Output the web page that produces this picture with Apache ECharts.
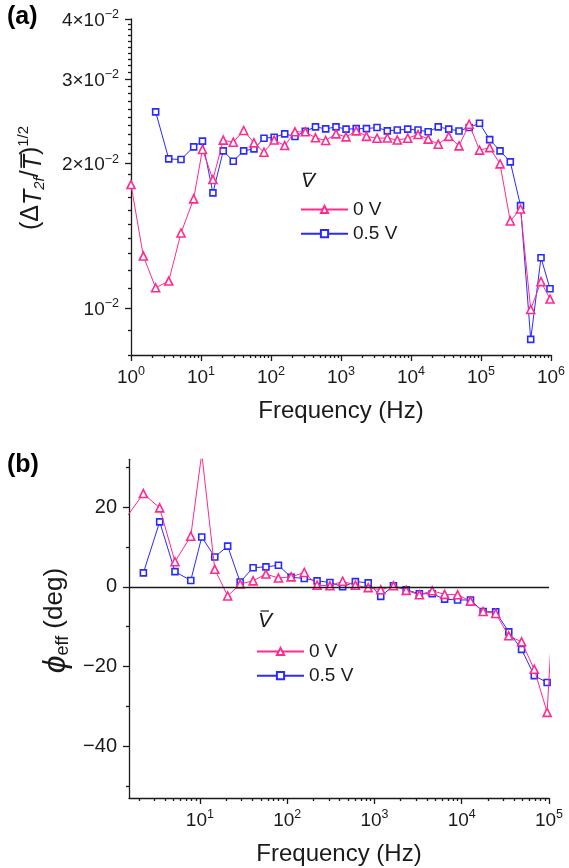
<!DOCTYPE html>
<html>
<head>
<meta charset="utf-8">
<title>Thermal oscillation amplitude and phase vs frequency</title>
<script src="https://cdn.jsdelivr.net/npm/echarts@6/dist/echarts.min.js"></script>
<style>
  html, body { margin: 0; padding: 0; background: #ffffff; }
  #chart { width: 569px; height: 868px; }
</style>
</head>
<body>
<div id="chart"></div>
<script>
// Measurement frequencies (Hz), shared by both panels
const freqHz = [1.0, 1.5, 2.25, 3.46, 5.18, 7.86, 10.5, 14.8, 20.8, 28.9, 40.7, 57.1, 79.4, 111, 157, 220,
  309, 432, 604, 848, 1180, 1650, 2310, 3270, 4590, 6370, 8970, 12600, 17600, 24500, 34600, 48500,
  67800, 95200, 133000, 187000, 262000, 367000, 513000, 720000, 968000];

// (a) normalised second-harmonic amplitude
const ampZeroV = [0.0181, 0.01285, 0.01104, 0.0114, 0.01435, 0.0169, 0.02141, 0.01854, 0.02239, 0.02217,
  0.02345, 0.0221, 0.02113, 0.0224, 0.02182, 0.0233, 0.0233, 0.02264, 0.02235, 0.02307, 0.02274, 0.02341,
  0.0228, 0.0226, 0.02262, 0.0224, 0.0226, 0.0230, 0.0225, 0.02196, 0.0228, 0.02178, 0.02416, 0.02134,
  0.0216, 0.01998, 0.0152, 0.0161, 0.00995, 0.01137, 0.01046];
const ampHalfV = [null, null, 0.02564, 0.02047, 0.0204, 0.02168, 0.02228, 0.01739, 0.02127, 0.02024,
  0.02127, 0.02147, 0.0226, 0.0227, 0.02307, 0.02279, 0.02337, 0.02386, 0.02363, 0.02386, 0.0236, 0.02366,
  0.02366, 0.02379, 0.02341, 0.0235, 0.0236, 0.0235, 0.0233, 0.02386, 0.0236, 0.0234, 0.02379, 0.02428,
  0.02245, 0.02127, 0.02018, 0.01636, 0.00862, 0.01275, 0.01099];

// (b) effective phase (deg)
const phaseZeroV = [null, 18.0, 23.4, 19.8, 6.3, 12.7, 33.5, 4.4, -2.3, 0.7, 1.5, 3.2, 2.2, 2.5, 3.6, 0.4,
  0.25, 1.4, 0.4, -0.2, -0.75, 0.25, -0.9, -2.0, -1.0, -1.9, -2.0, -3.6, -6.2, -6.7, -12.3, -13.8, -20.7,
  -31.5, 25.0];
const phaseHalfV = [null, null, 3.5, 16.3, 3.8, 1.6, 12.5, 7.5, 10.2, 1.2, 4.8, 5.0, 5.4, 2.4, 2.1, 1.5,
  1.1, 0.0, 1.3, 1.0, -2.4, 0.25, -0.75, -1.75, -1.75, -3.1, -3.3, -3.3, -6.2, -6.3, -11.3, -15.7, -22.3,
  -24.0];

// Axis ticks and labels
const seriesNames = ['0 V', '0.5 V'];
const freqDecadesA = [1, 10, 100, 1000, 10000, 100000, 1000000];
const freqDecadesB = [10, 100, 1000, 10000, 100000];
const ampTicks = [0.01, 0.02, 0.03, 0.04];
const ampTickLabels = ['{base|10}{sup|\u22122}', '{base|2\u00d710}{sup|\u22122}', '{base|3\u00d710}{sup|\u22122}', '{base|4\u00d710}{sup|\u22122}'];
const phaseTicks = [-40, -20, 0, 20];
const phaseMinorTicks = [-50, -30, -10, 10, 30];

const FONT = "'Liberation Sans', Arial, Helvetica, sans-serif";
const INK = '#1a1a1a';
const PINK = '#ff2a8c';
const BLUE = '#2a2aff';

function pairs(values) {
  const out = [];
  values.forEach((v, i) => { if (v !== null) out.push([freqHz[i], v]); });
  return out;
}

// 2..9 x 10^n minor ticks inside [lo, hi]
function logMinor(lo, hi) {
  const out = [];
  for (let e = -3; e <= 6; e++) {
    for (let m = 2; m <= 9; m++) {
      const v = m * Math.pow(10, e);
      if (v >= lo * 0.9999 && v <= hi * 1.0001) out.push(v);
    }
  }
  return out;
}
// 0.008 .. 0.039 every 0.001 (minor ticks of the amplitude axis)
function ampMinor() {
  const out = [];
  for (let k = 8; k <= 39; k++) if (k % 10 !== 0) out.push(k / 1000);
  return out;
}

const supRich = {
  base: { fontSize: 19, fontFamily: FONT, color: INK, lineHeight: 22, verticalAlign: 'bottom' },
  sup: { fontSize: 12.5, fontFamily: FONT, color: INK, lineHeight: 12, verticalAlign: 'top' }
};

function decadeLabel(v) {
  const e = Math.round(Math.log10(v));
  return '{base|10}{sup|' + e + '}';
}

const axisLineStyle = { color: INK, width: 1.3 };

function freqAxis(gridIndex, min, max, decades) {
  return [
    {
      type: 'log', logBase: 10, gridIndex, min, max, position: 'bottom',
      axisLine: { show: true, onZero: false, lineStyle: axisLineStyle },
      axisTick: { show: true, inside: false, length: 6, lineStyle: axisLineStyle, customValues: decades },
      axisLabel: { show: true, margin: 10, customValues: decades, formatter: decadeLabel, rich: supRich },
      splitLine: { show: false }, minorTick: { show: false },
      name: 'Frequency (Hz)', nameLocation: 'middle', nameGap: 44,
      nameTextStyle: { fontSize: 24, fontFamily: FONT, color: INK }
    },
    {
      type: 'log', logBase: 10, gridIndex, min, max, position: 'bottom',
      axisLine: { show: false, onZero: false },
      axisTick: { show: true, inside: false, length: 3, lineStyle: axisLineStyle, customValues: logMinor(min, max) },
      axisLabel: { show: false }, splitLine: { show: false }
    }
  ];
}

function lineSeries(name, data, xi, yi, isZero) {
  const color = isZero ? PINK : BLUE;
  return {
    name, type: 'line', data, xAxisIndex: xi, yAxisIndex: yi,
    symbol: isZero ? 'triangle' : 'rect', symbolSize: isZero ? 8 : 6,
    showSymbol: true, clip: true, animation: false,
    lineStyle: { color, width: 1 },
    itemStyle: { color: '#ffffff', borderColor: color, borderWidth: 1.6 },
    emphasis: { disabled: true },
    z: isZero ? 3 : 2
  };
}

function legendAt(left, top) {
  return {
    data: seriesNames, orient: 'vertical', left, top,
    itemWidth: 47, itemHeight: 9, itemGap: 5.2, selectedMode: false,
    textStyle: { fontSize: 19, fontFamily: FONT, color: INK }
  };
}

const chart = echarts.init(document.getElementById('chart'), null, { renderer: 'canvas' });

const option = {
  backgroundColor: '#ffffff',
  animation: false,
  grid: [
    { left: 131, top: 19, width: 420, height: 336, containLabel: false },
    { left: 129, top: 459.3, width: 420, height: 338.7, containLabel: false }
  ],
  xAxis: [
    ...freqAxis(0, 1, 1000000, freqDecadesA),
    ...freqAxis(1, 1.54, 100000, freqDecadesB)
  ],
  yAxis: [
    {
      type: 'log', logBase: 10, gridIndex: 0, min: 0.008, max: 0.04, position: 'left',
      axisLine: { show: true, onZero: false, lineStyle: axisLineStyle },
      axisTick: { show: true, length: 6, lineStyle: axisLineStyle, customValues: ampTicks },
      axisLabel: {
        margin: 12, customValues: ampTicks, rich: supRich,
        formatter: (v) => {
          const i = ampTicks.findIndex(t => Math.abs(t - v) < 1e-6);
          return i >= 0 ? ampTickLabels[i] : '';
        }
      },
      splitLine: { show: false }, minorTick: { show: false },
      name: '(\u0394{it|T}{sub|2f}/{it|T\u0305}){sup|1/2}', nameLocation: 'middle', nameGap: 84, nameRotate: 90,
      nameTextStyle: {
        fontSize: 25, fontFamily: FONT, color: INK, padding: [0, 0, 0, 18],
        rich: {
          it: { fontSize: 25, fontFamily: FONT, fontStyle: 'italic', color: INK, lineHeight: 31, verticalAlign: 'bottom' },
          sub: { fontSize: 15, fontFamily: FONT, fontStyle: 'italic', color: INK, lineHeight: 15, verticalAlign: 'bottom' },
          sup: { fontSize: 15, fontFamily: FONT, color: INK, lineHeight: 15, verticalAlign: 'top' }
        }
      }
    },
    {
      type: 'log', logBase: 10, gridIndex: 0, min: 0.008, max: 0.04, position: 'left',
      axisLine: { show: false, onZero: false },
      axisTick: { show: true, length: 3, lineStyle: axisLineStyle, customValues: ampMinor() },
      axisLabel: { show: false }, splitLine: { show: false }
    },
    {
      type: 'value', gridIndex: 1, min: -53, max: 32, position: 'left',
      axisLine: { show: true, onZero: false, lineStyle: axisLineStyle },
      axisTick: { show: true, length: 6, lineStyle: axisLineStyle, customValues: phaseTicks },
      axisLabel: {
        margin: 12, customValues: phaseTicks, fontSize: 20, fontFamily: FONT, color: INK,
        formatter: (v) => (v < 0 ? '\u2212' + Math.abs(v) : String(v))
      },
      splitLine: { show: false },
      name: '{phi|\u03d5}{sub|eff} (deg)', nameLocation: 'middle', nameGap: 56, nameRotate: 90,
      nameTextStyle: {
        fontSize: 26, fontFamily: FONT, color: INK, padding: [0, 0, 0, 16],
        rich: {
          phi: { fontSize: 32, fontFamily: FONT, fontStyle: 'italic', color: INK, lineHeight: 34, verticalAlign: 'bottom' },
          sub: { fontSize: 18, fontFamily: FONT, color: INK, lineHeight: 18, verticalAlign: 'bottom' }
        }
      }
    },
    {
      type: 'value', gridIndex: 1, min: -53, max: 32, position: 'left',
      axisLine: { show: false, onZero: false },
      axisTick: { show: true, length: 3, lineStyle: axisLineStyle, customValues: phaseMinorTicks },
      axisLabel: { show: false }, splitLine: { show: false }
    }
  ],
  legend: [legendAt(295, 195), legendAt(251, 637)],
  series: [
    lineSeries(seriesNames[0], pairs(ampZeroV), 0, 0, true),
    lineSeries(seriesNames[1], pairs(ampHalfV), 0, 0, false),
    Object.assign(lineSeries(seriesNames[0], pairs(phaseZeroV), 2, 2, true), {
      markLine: {
        silent: true, symbol: ['none', 'none'], label: { show: false },
        lineStyle: { color: INK, width: 1.3, type: 'solid' },
        data: [{ yAxis: 0 }], animation: false
      }
    }),
    lineSeries(seriesNames[1], pairs(phaseHalfV), 2, 2, false)
  ],
  graphic: [
    { type: 'text', left: 7, top: 5, style: { text: '(a)', font: "bold 25px " + FONT, fill: '#000' } },
    { type: 'text', left: 7, top: 453, style: { text: '(b)', font: "bold 25px " + FONT, fill: '#000' } },
    // legend titles: italic V with a bar
    { type: 'text', left: 301, top: 171, style: { text: 'V', font: "italic 21px " + FONT, fill: INK } },
    { type: 'line', shape: { x1: 303.5, y1: 173.3, x2: 312, y2: 173.3 }, style: { stroke: INK, lineWidth: 1.2 } },
    { type: 'text', left: 258, top: 611, style: { text: 'V', font: "italic 21px " + FONT, fill: INK } },
    { type: 'line', shape: { x1: 260.5, y1: 611, x2: 269, y2: 611 }, style: { stroke: INK, lineWidth: 1.2 } }
  ]
};

chart.setOption(option);
</script>
</body>
</html>
